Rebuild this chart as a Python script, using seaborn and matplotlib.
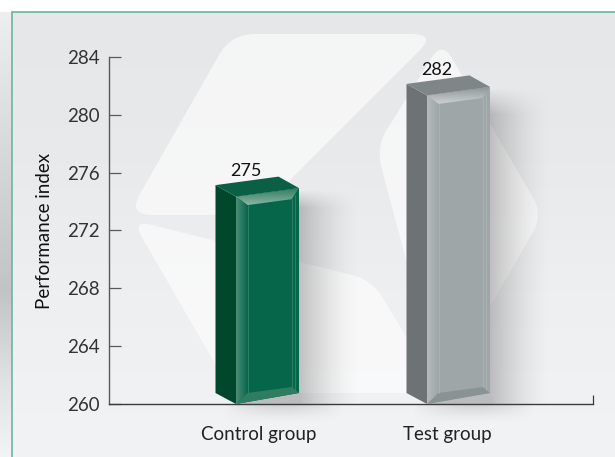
import matplotlib
matplotlib.use('Agg')
import matplotlib.pyplot as plt
import numpy as np
import seaborn as sns
from matplotlib.colors import to_rgb
from matplotlib.patches import PathPatch, Polygon
from matplotlib.path import Path
from matplotlib.transforms import ScaledTranslation

groups = ['Control group', 'Test group']
values = [275, 282]
y_ticks = [260, 264, 268, 272, 276, 280, 284]

W, H = 615, 457
# pixel frame of the plot area
X0, X1, Y_TOP, Y_BASE = 109, 593, 57, 404
CENTERS = [267.5, 458.5]
STEP = CENTERS[1] - CENTERS[0]
FACE_W = 63

BAR_COLORS = [
    dict(front='#05664a', side='#00472b', top='#0a5f44', light='#8db3a3', edge='#2f7f62',
         bevel='#4d8d76', bottom='#2e7d60', line='#3c8a6e'),
    dict(front='#9ea6a8', side='#6d7274', top='#7e8688', light='#ccd1d1', edge='#8f9799',
         bevel='#b4babb', bottom='#8a9294', line='#b0b7b8'),
]

sns.set_theme(style='white')
plt.rcParams['font.family'] = ['Lato', 'DejaVu Sans']

fig = plt.figure(figsize=(W / 100, H / 100), dpi=100, facecolor='white')


def pixel_axes(z):
    a = fig.add_axes([0, 0, 1, 1], zorder=z)
    a.set_xlim(0, W)
    a.set_ylim(H, 0)
    a.set_autoscale_on(False)
    a.axis('off')
    a.patch.set_visible(False)
    return a


def rounded(verts, r):
    # polygon with rounded corners
    verts = np.array(verts, dtype=float)
    n = len(verts)
    pts, codes = [], []
    for i in range(n):
        p, a, b = verts[i], verts[i - 1], verts[(i + 1) % n]
        s = p + (a - p) / np.linalg.norm(a - p) * r
        e = p + (b - p) / np.linalg.norm(b - p) * r
        pts += [s, p, e]
        codes += [Path.MOVETO if i == 0 else Path.LINETO, Path.CURVE3, Path.CURVE3]
    pts.append(pts[0])
    codes.append(Path.CLOSEPOLY)
    return Path(pts, codes)


def gradient(a, verts, c1, c2, vertical=True):
    # polygon filled with a linear gradient
    verts = np.array(verts)
    x0, y0 = verts.min(axis=0)
    x1, y1 = verts.max(axis=0)
    t = np.linspace(0, 1, 32)[:, None]
    col = (1 - t) * np.array(to_rgb(c1)) + t * np.array(to_rgb(c2))
    arr = col[:, None, :] if vertical else col[None, :, :]
    im = a.imshow(arr, extent=(x0, x1, y1, y0), aspect='auto', interpolation='bilinear')
    clip = Polygon(verts, closed=True, transform=a.transData)
    im.set_clip_path(clip)


# background
bg = pixel_axes(0)
t = np.interp(np.arange(H), [12, 150, 300, 457], [0, 0.2, 0.7, 1])[:, None, None]
panel = (1 - t) * np.array(to_rgb('#e6e7e8')) + t * np.array(to_rgb('#f2f3f5'))
bg.imshow(panel, extent=(12, W, H, 0), aspect='auto')
strip = np.interp(np.arange(H), [12, 60, 290, 380, 457], [0.93, 0.90, 0.76, 0.88, 0.95])
strip_rgb = np.stack([strip, strip + 0.005, strip + 0.01], axis=1)[:, None, :]
bg.imshow(strip_rgb, extent=(0, 12, H, 0), aspect='auto')
bg.fill_between([0, W], 0, 12, color='white', zorder=3, lw=0)

# pale background shapes
shapes = [
    ([(231, 34), (436, 34), (255, 215), (128, 215)], 24),
    ([(132, 220), (372, 280), (440, 393), (232, 393)], 20),
    ([(442, 41), (543, 215), (441, 391), (376, 147)], 20),
]
for verts, r in shapes:
    bg.add_patch(PathPatch(rounded(verts, r), fc='white', ec='none', alpha=0.6, zorder=1))

bg.plot([12, 12], [12, H], color='#6fb49b', lw=1.2, zorder=4)
bg.plot([12, W], [12, 12], color='#6fb49b', lw=1.2, zorder=4)

# main chart
ax = fig.add_axes([X0 / W, 1 - Y_BASE / H, (X1 - X0) / W, (Y_BASE - Y_TOP) / H], zorder=1)
ax.patch.set_visible(False)
sns.barplot(x=groups, y=values, hue=groups, palette=[c['front'] for c in BAR_COLORS],
            width=FACE_W / STEP, saturation=1, legend=False, ax=ax)
x_lo = (X0 - CENTERS[0]) / STEP
x_hi = (X1 - CENTERS[0]) / STEP
ax.set_xlim(x_lo, x_hi)
ax.set_ylim(y_ticks[0], y_ticks[-1])
ax.set_yticks(y_ticks)
ax.set_xticks([0, 1])
ax.set_xticks([x_hi], minor=True)
ax.set_xticklabels(groups)
sns.despine(ax=ax)
for s in ['left', 'bottom']:
    ax.spines[s].set_linewidth(1.0)
ax.spines['left'].set_color('#58595b')
ax.spines['bottom'].set_color('#3a3a3c')
ax.tick_params(axis='y', direction='in', left=True, length=8.6, width=0.9, color='#58595b',
               pad=6.5, labelsize=13.5, labelcolor='#333333')
ax.tick_params(axis='x', which='major', length=0, pad=15.5, labelsize=13.5, labelcolor='#222222')
ax.tick_params(axis='x', which='minor', direction='in', bottom=True, length=6.5, width=0.9, color='#3a3a3c')
ax.set_ylabel('Performance index', fontsize=13.5, color='#111111', labelpad=10)
ax.set_xlabel('')
for lab, dx in zip(ax.get_xticklabels(), [-9, -11]):
    lab.set_transform(lab.get_transform() + ScaledTranslation(dx / 100, 0, fig.dpi_scale_trans))

# the bar faces and their bevels, placed from the bar values
over = pixel_axes(2)
for i, (v, c) in enumerate(zip(values, BAR_COLORS)):
    top = Y_BASE - (v - y_ticks[0]) * (Y_BASE - Y_TOP) / (y_ticks[-1] - y_ticks[0])
    fx0 = CENTERS[i] - FACE_W / 2
    fx1 = CENTERS[i] + FACE_W / 2
    ix0, ix1 = fx0 + 11.5, fx1 - 7
    lx = fx0 - 20.5

    # drop shadow on the wall, runs under the bar so the slanted foot has shade below it
    nx, ny = 60, 120
    fade_x = (1 - np.linspace(0, 1, nx)) ** 1.6
    fade_y = np.clip(np.linspace(0, 12, ny), 0, 1)
    alpha = 0.42 * fade_y[:, None] * fade_x[None, :]
    rgba = np.dstack([np.full_like(alpha, 0.45)] * 3 + [alpha])
    bg.imshow(rgba, extent=(fx1, fx1 + 62, Y_BASE, top + 2), aspect='auto', zorder=2)
    bg.fill_between([fx0, fx1], Y_BASE - 14, Y_BASE, color='#737373', alpha=0.42, lw=0, zorder=2)
    # shadow on the floor
    fy = (1 - np.linspace(0, 1, 20)) ** 1.5
    fx = np.sin(np.linspace(0, np.pi, 80))
    alpha = 0.25 * fy[:, None] * fx[None, :]
    rgba = np.dstack([np.full_like(alpha, 0.45)] * 3 + [alpha])
    bg.imshow(rgba, extent=(fx0 - 15, fx1 + 45, Y_BASE + 20, Y_BASE), aspect='auto', zorder=2)

    front = [(fx0, top + 9.5), (fx1, top + 1), (fx1, Y_BASE - 11), (fx0, Y_BASE)]
    ax.patches[i].set_clip_path(Polygon(front, closed=True, transform=over.transData))

    # left side and top
    over.add_patch(Polygon([(lx, top - 2), (fx0, top + 9.5), (fx0, Y_BASE), (lx, Y_BASE - 11)],
                           fc=c['side'], ec='none'))
    over.add_patch(Polygon([(lx, top - 2), (lx + 63, top - 10.5), (fx1, top + 1), (fx0, top + 9.5)],
                           fc=c['top'], ec='none'))
    # bevels
    tl, tr = (ix0, top + 18), (ix1, top + 12)
    bl, br = (ix0, Y_BASE - 11), (ix1, Y_BASE - 17)
    gradient(over, [(fx0, top + 9.5), (fx1, top + 1), tr, tl], c['edge'], c['light'])
    gradient(over, [(fx0, top + 9.5), tl, bl, (fx0, Y_BASE)], c['bevel'], c['front'], vertical=False)
    over.add_patch(Polygon([(fx1, top + 1), tr, br, (fx1, Y_BASE - 11)], fc=c['front'], ec='none'))
    over.add_patch(Polygon([(fx0, Y_BASE), bl, br, (fx1, Y_BASE - 11)], fc=c['bottom'], ec='none'))
    over.plot([ix0, ix0], [top + 18, Y_BASE - 11], color=c['line'], lw=0.5)
    over.plot([ix1, ix1], [top + 12, Y_BASE - 17], color=c['line'], lw=0.5)
    over.plot([ix1 + 3, ix1 + 3], [top + 8, Y_BASE - 14], color=c['line'], lw=0.5)

    ax.annotate(str(v), xy=(i, v), xytext=(-22 * 0.72, 8 * 0.72), textcoords='offset points',
                ha='center', va='bottom', fontsize=13, color='#111111', annotation_clip=False)

fig.savefig('out.png', dpi=100)
